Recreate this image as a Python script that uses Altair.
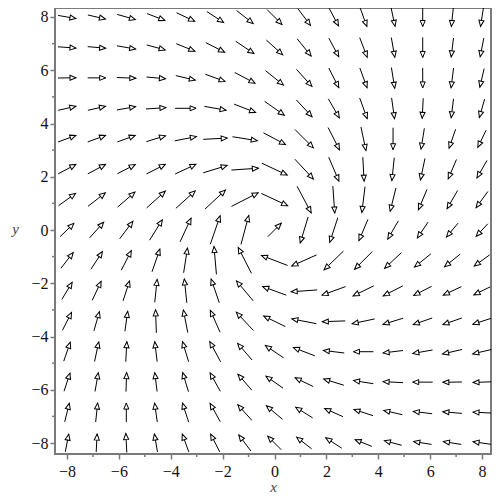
import math
import altair as alt
import pandas as pd

# grid positions (same for x and y)
grid_x = [-8.0, -6.857, -5.714, -4.571, -3.429, -2.286, -1.143, 0.0,
          1.143, 2.286, 3.429, 4.571, 5.714, 6.857, 8.0]
grid_y = [8.0, 6.857, 5.714, 4.571, 3.429, 2.286, 1.143, 0.0,
          -1.143, -2.286, -3.429, -4.571, -5.714, -6.857, -8.0]

# arrow direction (degrees, counter-clockwise from +x), one list per row, top to bottom
ang_r01 = [-10, -13, -16, -21, -25, -33, -38, -45, -53, -62, -70, -78, -90, -96, -99]
ang_r02 = [-4, -5, -10, -15, -22, -27, -34, -42, -51, -62, -69, -80, -90, -97, -101]
ang_r03 = [1, 0, -2, -5, -13, -20, -28, -39, -48, -63, -70, -81, -90, -97, -103]
ang_r04 = [13, 13, 10, 4, 0, -10, -21, -35, -47, -60, -70, -82, -93, -97, -106]
ang_r05 = [20, 20, 20, 17, 11, 3, -9, -28, -45, -63, -78, -90, -99, -109, -116]
ang_r06 = [28, 28, 27, 27, 25, 17, 4, -25, -47, -67, -87, -96, -102, -113, -120]
ang_r07 = [36, 38, 41, 42, 42, 43, 27, -25, -62, -86, -97, -104, -113, -120, -126]
ang_r08 = [44, 48, 53, 58, 65, 71, 75, 45, -107, -108, -113, -120, -124, -130, -133]
ang_r09 = [52, 57, 63, 71, 81, 95, 117, 159, -156, -136, -135, -137, -141, -141, -144]
ang_r10 = [59, 65, 72, 84, 96, 109, 130, 160, -176, -160, -154, -153, -153, -155, -154]
ang_r11 = [63, 74, 82, 92, 101, 114, 133, 154, 169, -178, -168, -163, -161, -161, -162]
ang_r12 = [71, 78, 87, 97, 107, 118, 131, 146, 159, 173, 180, -173, -170, -167, -167]
ang_r13 = [72, 80, 88, 97, 107, 119, 131, 145, 154, 163, 171, 177, 180, -179, -178]
ang_r14 = [76, 84, 90, 98, 108, 119, 132, 140, 148, 156, 162, 167, 173, 175, 177]
ang_r15 = [79, 87, 93, 100, 110, 117, 127, 135, 142, 147, 158, 165, 171, 171, 172]

# arrow lengths (pixels), one list per row, top to bottom
len_r01 = [18, 18, 19, 19, 20, 20, 21, 21, 21, 20, 20, 19, 19, 19, 19]
len_r02 = [18, 18, 19, 19, 20, 21, 22, 22, 22, 21, 21, 20, 20, 19, 19]
len_r03 = [18, 18, 19, 19, 20, 21, 23, 23, 23, 22, 21, 21, 20, 20, 19]
len_r04 = [18, 18, 19, 20, 21, 22, 23, 24, 23, 22, 22, 21, 20, 19, 19]
len_r05 = [19, 19, 19, 20, 22, 24, 25, 25, 26, 25, 24, 22, 21, 20, 19]
len_r06 = [20, 20, 20, 21, 23, 25, 27, 28, 27, 26, 24, 23, 22, 21, 20]
len_r07 = [21, 22, 23, 25, 26, 28, 30, 29, 30, 27, 26, 24, 22, 21, 20]
len_r08 = [19, 21, 22, 24, 26, 30, 30, 19, 27, 26, 23, 21, 19, 18, 17]
len_r09 = [20, 21, 22, 24, 25, 28, 29, 28, 27, 27, 25, 23, 21, 20, 19]
len_r10 = [20, 21, 21, 23, 24, 25, 26, 25, 26, 25, 23, 22, 20, 20, 18]
len_r11 = [20, 20, 20, 23, 23, 24, 25, 24, 25, 23, 23, 21, 20, 20, 19]
len_r12 = [20, 20, 20, 20, 21, 23, 22, 22, 23, 21, 20, 20, 20, 20, 19]
len_r13 = [19, 19, 19, 19, 20, 21, 21, 21, 20, 21, 20, 20, 20, 19, 18]
len_r14 = [19, 19, 19, 19, 20, 21, 21, 21, 20, 20, 20, 19, 19, 19, 18]
len_r15 = [18, 18, 19, 18, 19, 20, 20, 19, 19, 19, 18, 18, 18, 18, 18]

major_ticks = [-8, -6, -4, -2, 0, 2, 4, 6, 8]
minor_ticks = [-7, -5, -3, -1, 1, 3, 5, 7]

angle_rows = [ang_r01, ang_r02, ang_r03, ang_r04, ang_r05, ang_r06, ang_r07, ang_r08,
              ang_r09, ang_r10, ang_r11, ang_r12, ang_r13, ang_r14, ang_r15]
length_rows = [len_r01, len_r02, len_r03, len_r04, len_r05, len_r06, len_r07, len_r08,
               len_r09, len_r10, len_r11, len_r12, len_r13, len_r14, len_r15]

# layout
W, H = 436, 446
X_DOM = [-8.463, 8.347]
Y_DOM = [-8.413, 8.338]
px_x = W / (X_DOM[1] - X_DOM[0])
px_y = H / (Y_DOM[1] - Y_DOM[0])

rows = []
for yi, yv in enumerate(grid_y):
    for xi, xv in enumerate(grid_x):
        a = angle_rows[yi][xi]
        L = length_rows[yi][xi]
        dx = L * math.cos(math.radians(a)) / px_x
        dy = L * math.sin(math.radians(a)) / px_y
        rows.append({
            "xt": xv - dx / 2, "yt": yv - dy / 2,
            "xh": xv + dx / 2, "yh": yv + dy / 2,
            "theta": (90 - a) % 360,
        })
df = pd.DataFrame(rows)

FONT = "Liberation Serif, Times New Roman, Times, serif"
GRAY = "#7a7a7a"

xscale = alt.Scale(domain=X_DOM, nice=False, zero=False)
yscale = alt.Scale(domain=Y_DOM, nice=False, zero=False)

common = dict(grid=False, domain=False, tickSize=5, tickColor=GRAY, tickWidth=1.5,
              labelFlush=False, labelFont=FONT, labelFontSize=16, labelColor="#111",
              titleFont=FONT, titleFontSize=15, titleFontStyle="italic",
              titleFontWeight="normal", titleColor="#444")

xaxis = alt.Axis(values=major_ticks, title="x", labelPadding=4,
                 titleY=37, titleBaseline="alphabetic", **common)
yaxis = alt.Axis(values=major_ticks, title="y", labelPadding=2, titleAngle=0,
                 titleX=-40, titleY=225, titleAlign="center", titleBaseline="alphabetic",
                 **common)

base = alt.Chart(df)

shafts = base.mark_rule(color="black", strokeWidth=1).encode(
    x=alt.X("xt:Q", scale=xscale, axis=xaxis),
    y=alt.Y("yt:Q", scale=yscale, axis=yaxis),
    x2="xh:Q",
    y2="yh:Q",
)

heads = base.mark_point(
    shape="M0,0L0.42,1L-0.42,1Z", filled=True, fill="white", stroke="black",
    strokeWidth=1, size=144, opacity=1, fillOpacity=1,
).encode(
    x=alt.X("xh:Q", scale=xscale, axis=xaxis),
    y=alt.Y("yh:Q", scale=yscale, axis=yaxis),
    angle=alt.Angle("theta:Q", scale=None),
)

mt = pd.DataFrame({"v": minor_ticks})
minor_x = alt.Chart(mt).mark_rule(color=GRAY, strokeWidth=1.5).encode(
    x=alt.X("v:Q", scale=xscale, axis=xaxis), y=alt.value(H), y2=alt.value(H + 3))
minor_y = alt.Chart(mt).mark_rule(color=GRAY, strokeWidth=1.5).encode(
    y=alt.Y("v:Q", scale=yscale, axis=yaxis), x=alt.value(0), x2=alt.value(-3))

chart = alt.layer(shafts, heads, minor_x, minor_y).properties(
    width=W, height=H,
    autosize=alt.AutoSizeParams(type="none"),
    padding={"left": 47, "top": 0, "right": 1, "bottom": 40},
).configure_view(
    stroke=GRAY, strokeWidth=2
).configure_axis(
    labelFont=FONT, titleFont=FONT,
)

chart.save("out.html", embed_options={"renderer": "svg", "actions": False})
